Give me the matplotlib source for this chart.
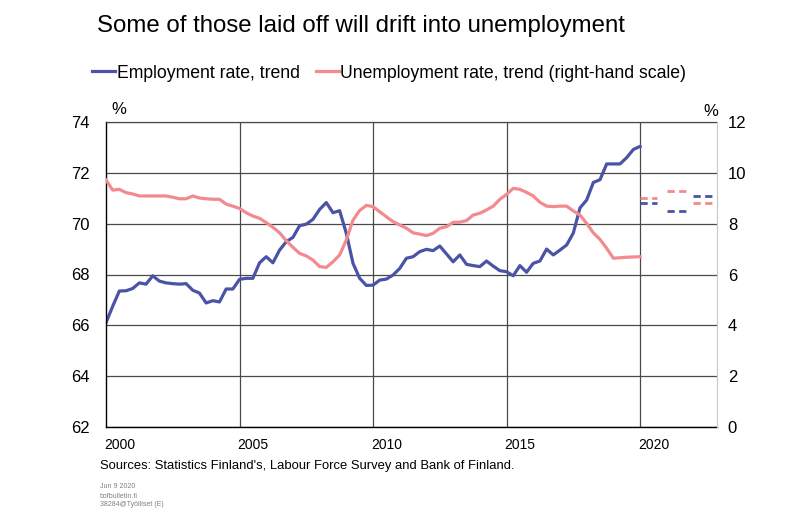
import matplotlib.pyplot as plt
import numpy as np

plt.rcParams['font.family'] = ['Liberation Sans', 'DejaVu Sans']

# quarterly trend series, 2000Q1 .. 2020Q1
quarters = np.arange(2000, 2020.01, 0.25)
employment = [
    66.10, 66.75, 67.35, 67.36,
    67.45, 67.67, 67.62, 67.95,
    67.74, 67.67, 67.64, 67.62,
    67.64, 67.38, 67.27, 66.88,
    66.97, 66.92, 67.43, 67.43,
    67.81, 67.85, 67.85, 68.46,
    68.70, 68.46, 68.96, 69.29,
    69.46, 69.92, 69.98, 70.17,
    70.56, 70.83, 70.43, 70.51,
    69.62, 68.44, 67.85, 67.57,
    67.58, 67.78, 67.82, 67.98,
    68.24, 68.64, 68.70, 68.90,
    68.99, 68.94, 69.12, 68.81,
    68.50, 68.77, 68.40, 68.35,
    68.31, 68.53, 68.33, 68.15,
    68.11, 67.95, 68.35, 68.09,
    68.44, 68.53, 69.00, 68.77,
    68.96, 69.16, 69.63, 70.62,
    70.93, 71.62, 71.73, 72.35,
    72.35, 72.35, 72.60, 72.92,
    73.04,
]
unemployment = [
    9.72, 9.32, 9.35, 9.22,
    9.17, 9.09, 9.09, 9.09,
    9.09, 9.09, 9.04, 8.98,
    8.98, 9.09, 9.01, 8.98,
    8.96, 8.96, 8.77, 8.69,
    8.60, 8.43, 8.30, 8.21,
    8.04, 7.86, 7.64, 7.33,
    7.07, 6.83, 6.73, 6.57,
    6.31, 6.28, 6.50, 6.77,
    7.36, 8.14, 8.52, 8.72,
    8.67, 8.47, 8.27, 8.08,
    7.95, 7.82, 7.64, 7.59,
    7.53, 7.62, 7.82, 7.88,
    8.05, 8.06, 8.12, 8.34,
    8.41, 8.54, 8.69, 8.96,
    9.15, 9.39, 9.35, 9.23,
    9.09, 8.84, 8.69, 8.67,
    8.69, 8.69, 8.50, 8.34,
    8.01, 7.64, 7.38, 7.03,
    6.64, 6.66, 6.68, 6.69,
    6.70,
]

# annual forecasts
forecast_years = [2020, 2021, 2022]
employment_forecast = [70.8, 70.5, 71.1]
unemployment_forecast = [9.0, 9.3, 8.8]

year_labels = [str(y) for y in range(2000, 2021, 5)]

blue = '#4a53a6'
pink = '#f28a8e'
grid_col = '#4a4a4a'

fig = plt.figure(figsize=(8, 5.22), dpi=100)
ax = fig.add_axes([106 / 800, 1 - 427 / 522, (716.7 - 106) / 800, (427 - 122) / 522])
ax2 = ax.twinx()

ax.plot(quarters, employment, color=blue, lw=2.3, solid_joinstyle='round', label='Employment rate, trend')
ax2.plot(quarters, unemployment, color=pink, lw=2.3, solid_joinstyle='round',
         label='Unemployment rate, trend (right-hand scale)')

for yr, e, u in zip(forecast_years, employment_forecast, unemployment_forecast):
    end = yr + (0.65 if yr == 2020 else 0.82)
    ax.plot([yr, end], [e, e], color=blue, lw=2, ls=(0, (2.6, 1.6)))
    ax2.plot([yr, end], [u, u], color=pink, lw=2, ls=(0, (2.6, 1.6)))

ax.set_xlim(2000, 2022.87)
ax.set_ylim(62, 74)
ax2.set_ylim(0, 12)
ax.set_yticks(range(62, 75, 2))
ax2.set_yticks(range(0, 13, 2))

ax.set_xticks(range(2005, 2021, 5))
ax.set_xticklabels([])
ax.set_xticks([int(y) + 0.5 for y in year_labels], minor=True)
ax.set_xticklabels(year_labels, minor=True)

ax.tick_params(axis='x', which='both', length=0, labelsize=10, pad=8)
ax.tick_params(axis='y', length=0, labelsize=12, pad=11.5)
ax2.tick_params(axis='y', length=0, labelsize=12, pad=8)

ax.grid(True, which='major', color=grid_col, lw=0.9)
ax.set_axisbelow(True)

for s in ['left', 'bottom']:
    ax.spines[s].set_color('black')
    ax.spines[s].set_linewidth(1.0)
ax.spines['top'].set_color(grid_col)
ax.spines['top'].set_linewidth(0.9)
ax2.spines['right'].set_color('#c8c8c8')
ax2.spines['top'].set_visible(False)
ax2.spines['left'].set_visible(False)
ax2.spines['bottom'].set_visible(False)
ax.spines['right'].set_visible(False)

fig.text(119 / 800, 1 - 110 / 522, '%', fontsize=12, ha='center', va='center')
fig.text(711 / 800, 1 - 112 / 522, '%', fontsize=12, ha='center', va='center')

fig.text(97 / 800, 1 - 26 / 522, 'Some of those laid off will drift into unemployment',
         fontsize=17.3, ha='left', va='center')

h1, l1 = ax.get_legend_handles_labels()
h2, l2 = ax2.get_legend_handles_labels()
fig.legend(h1 + h2, l1 + l2, loc='center left', bbox_to_anchor=(92 / 800, 1 - 73 / 522),
           ncol=2, frameon=False, fontsize=12.7, handlelength=1.3, handletextpad=0.1,
           columnspacing=0.9, borderpad=0, borderaxespad=0)

fig.text(100 / 800, 1 - 466 / 522,
         "Sources: Statistics Finland's, Labour Force Survey and Bank of Finland.",
         fontsize=9.4, ha='left', va='center')
fig.text(100 / 800, 1 - 487 / 522, 'Jun 9 2020', fontsize=5, color='#808080', va='center')
fig.text(100 / 800, 1 - 496 / 522, 'bofbulletin.fi', fontsize=5, color='#808080', va='center')
fig.text(100 / 800, 1 - 505 / 522, '38284@Työlliset (E)', fontsize=5, color='#808080', va='center')

fig.savefig('out.png', dpi=100, facecolor='white')
